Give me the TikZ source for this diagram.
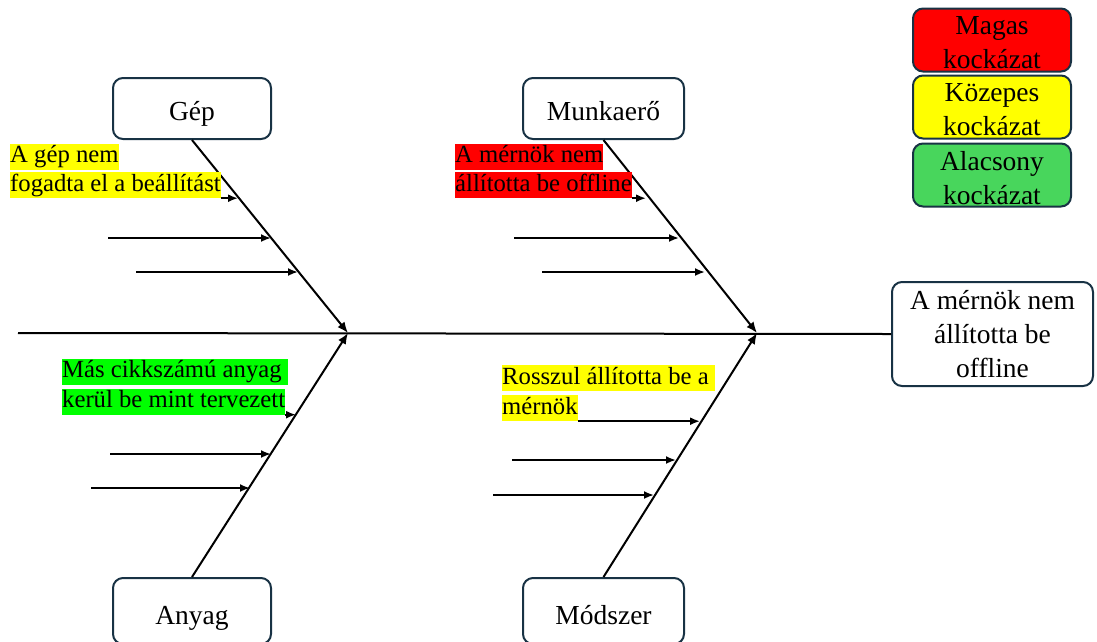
\documentclass[tikz,border=0pt]{standalone}
\usepackage{fontspec}
\setmainfont{Liberation Serif}
\usetikzlibrary{arrows.meta}
\definecolor{bord}{RGB}{24,50,68}
\definecolor{hlyellow}{RGB}{255,255,0}
\definecolor{hlred}{RGB}{255,0,0}
\definecolor{hlgreen}{RGB}{0,255,0}
\definecolor{leggreen}{RGB}{72,214,92}
\newcommand{\legtext}[1]{\raisebox{-9pt}[20pt][20pt]{\parbox{150pt}{\centering #1}}}
\begin{document}
\begin{tikzpicture}[x=1pt,y=-1pt,
  catbox/.style={draw=bord, line width=2pt, rounded corners=10pt, fill=white,
    minimum width=158pt, minimum height=61pt, inner sep=0pt, align=center,
    font=\fontsize{27.5}{34}\selectfont},
  onebox/.style={catbox, text height=26pt, text depth=3pt},
  legbox/.style={catbox, minimum height=63pt, font=\fontsize{27.5}{34}\selectfont},
  hl/.style={anchor=west, inner xsep=0pt, inner ysep=0pt, text height=19pt,
    text depth=7pt, font=\fontsize{24.7}{28}\selectfont},
  bone/.style={line width=2pt, -{Latex[length=11pt,width=9pt]}},
  sub/.style={line width=1.9pt, -{Latex[length=10pt,width=8pt]}}]
\useasboundingbox (0,0) rectangle (1097,641);

% category boxes
\node[onebox] (gep) at (192,108.5) {Gép};
\node[onebox, minimum width=161pt] (mun) at (603.5,108.5) {Munkaerő};
\node[onebox, minimum height=66pt, text height=28pt, text depth=2pt] (any) at (192,611) {Anyag};
\node[onebox, minimum width=161pt, minimum height=66pt, text height=28pt, text depth=2pt] (mod) at (603.5,611) {Módszer};

% effect box
\node[catbox, minimum width=201pt, minimum height=104pt] (eff) at (992.5,334)
  {A mérnök nem\\állította be\\offline};

% legend
\node[legbox, fill=hlred] (lh) at (992,40) {\legtext{Magas\\kockázat}};
\node[legbox, fill=hlyellow] (lm) at (992,107) {\legtext{Közepes\\kockázat}};
\node[legbox, fill=leggreen] (ll) at (992,175) {\legtext{Alacsony\\kockázat}};

% spine and junctions
\coordinate (tail) at (18,333);
\coordinate (j1) at (348,333);
\coordinate (j2) at (757,333);
\draw[line width=2pt] (tail) -- (eff.west);

% bones
\draw[bone] (gep.south) -- (j1);
\draw[bone] (mun.south) -- (j2);
\draw[bone] (any.north) -- (j1);
\draw[bone] (mod.north) -- (j2);

% highlighted cause labels
\node[hl, fill=hlyellow] (ul1) at (10,156.5) {A gép nem};
\node[hl, fill=hlyellow] (ul2) at (10,185) {fogadta el a beállítást};
\node[hl, fill=hlred] (ur1) at (455,156.5) {A mérnök nem};
\node[hl, fill=hlred] (ur2) at (455,185) {állította be offline};
\node[hl, fill=hlgreen] (ll1) at (62,371.5) {Más cikkszámú anyag\hspace*{6pt}};
\node[hl, fill=hlgreen] (ll2) at (62,401.5) {kerül be mint tervezett};
\node[hl, fill=hlyellow] (lr1) at (502,378) {Rosszul állította be a\hspace*{6pt}};
\node[hl, fill=hlyellow] (lr2) at (502,408) {mérnök};

% sub-arrow end points on bones
\coordinate (ulE1) at (238,198);
\coordinate (ulS2) at (108,238); \coordinate (ulE2) at (271,238);
\coordinate (ulS3) at (136,272); \coordinate (ulE3) at (298,272);
\coordinate (urE1) at (646,198);
\coordinate (urS2) at (514,238); \coordinate (urE2) at (679,238);
\coordinate (urS3) at (542,272); \coordinate (urE3) at (705,272);
\coordinate (llE1) at (296,415);
\coordinate (llS2) at (110,454); \coordinate (llE2) at (271,454);
\coordinate (llS3) at (91,488);  \coordinate (llE3) at (250,488);
\coordinate (lrE1) at (700,421);
\coordinate (lrS2) at (512,460); \coordinate (lrE2) at (676,460);
\coordinate (lrS3) at (493,495); \coordinate (lrE3) at (654,495);

% sub-arrows
\draw[sub] (ul2.south east) -- (ul2.south east -| ulE1);
\draw[sub] (ulS2) -- (ulE2);
\draw[sub] (ulS3) -- (ulE3);
\draw[sub] (ur2.south east) -- (ur2.south east -| urE1);
\draw[sub] (urS2) -- (urE2);
\draw[sub] (urS3) -- (urE3);
\draw[sub] (ll2.south east) -- (ll2.south east -| llE1);
\draw[sub] (llS2) -- (llE2);
\draw[sub] (llS3) -- (llE3);
\draw[sub] (lr2.south east) -- (lr2.south east -| lrE1);
\draw[sub] (lrS2) -- (lrE2);
\draw[sub] (lrS3) -- (lrE3);
\end{tikzpicture}
\end{document}
